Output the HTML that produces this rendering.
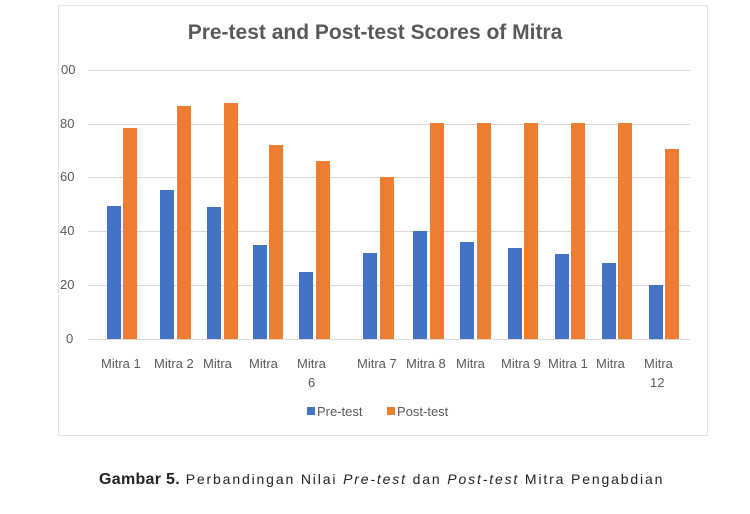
<!DOCTYPE html>
<html><head><style>
body{margin:0;width:750px;height:514px;background:#fff;position:relative;overflow:hidden;font-family:"Liberation Sans",sans-serif}
.frame{position:absolute;left:58px;top:5px;width:650px;height:431px;border:1px solid #e4e4e4;box-sizing:border-box}
.t{position:absolute;color:#595959;font-size:13px;white-space:nowrap}
.g{position:absolute;left:88px;width:602px;height:1px;background:#d9d9d9}
</style></head><body>
<div class="frame"></div>
<div class="t" style="left:0;width:750px;text-align:center;top:21px;font-size:21px;font-weight:bold;color:#595959">Pre-test and Post-test Scores of Mitra</div>
<div class="g" style="top:70px"></div><div class="g" style="top:124px"></div><div class="g" style="top:177px"></div><div class="g" style="top:231px"></div><div class="g" style="top:285px"></div><div class="g" style="top:339px"></div>
<div class="t" style="left:61px;top:62px">00</div>
<div class="t" style="left:60px;top:116px">80</div>
<div class="t" style="left:60px;top:169px">60</div>
<div class="t" style="left:60px;top:223px">40</div>
<div class="t" style="left:60px;top:277px">20</div>
<div class="t" style="left:66px;top:331px">0</div>
<svg width="750" height="514" style="position:absolute;left:0;top:0">
<g fill="#4472c4">
<rect x="107" y="206" width="14" height="133"/><rect x="160" y="190" width="14" height="149"/><rect x="207" y="207" width="14" height="132"/><rect x="253" y="245" width="14" height="94"/><rect x="299" y="272" width="14" height="67"/><rect x="363" y="253" width="14" height="86"/><rect x="413" y="231" width="14" height="108"/><rect x="460" y="242" width="14" height="97"/><rect x="508" y="248" width="14" height="91"/><rect x="555" y="254" width="14" height="85"/><rect x="602" y="263" width="14" height="76"/><rect x="649" y="285" width="14" height="54"/>
</g>
<g fill="#ed7d31">
<rect x="123" y="128" width="14" height="211"/><rect x="177" y="106" width="14" height="233"/><rect x="224" y="103" width="14" height="236"/><rect x="269" y="145" width="14" height="194"/><rect x="316" y="161" width="14" height="178"/><rect x="380" y="177" width="14" height="162"/><rect x="430" y="123" width="14" height="216"/><rect x="477" y="123" width="14" height="216"/><rect x="524" y="123" width="14" height="216"/><rect x="571" y="123" width="14" height="216"/><rect x="618" y="123" width="14" height="216"/><rect x="665" y="149" width="14" height="190"/>
</g>
</svg>
<div class="t" style="left:101px;top:356px">Mitra 1</div>
<div class="t" style="left:154px;top:356px">Mitra 2</div>
<div class="t" style="left:203px;top:356px">Mitra</div>
<div class="t" style="left:249px;top:356px">Mitra</div>
<div class="t" style="left:297px;top:356px">Mitra</div>
<div class="t" style="left:308px;top:375px">6</div>
<div class="t" style="left:357px;top:356px">Mitra 7</div>
<div class="t" style="left:406px;top:356px">Mitra 8</div>
<div class="t" style="left:456px;top:356px">Mitra</div>
<div class="t" style="left:501px;top:356px">Mitra 9</div>
<div class="t" style="left:548px;top:356px">Mitra 1</div>
<div class="t" style="left:596px;top:356px">Mitra</div>
<div class="t" style="left:644px;top:356px">Mitra</div>
<div class="t" style="left:650px;top:375px">12</div>
<div style="position:absolute;left:307px;top:407px;width:8px;height:8px;background:#4472c4"></div>
<div class="t" style="left:317px;top:404px">Pre-test</div>
<div style="position:absolute;left:387px;top:407px;width:8px;height:8px;background:#ed7d31"></div>
<div class="t" style="left:397px;top:404px">Post-test</div>
<div class="t" style="left:99px;top:471px;color:#222;font-size:14px;letter-spacing:1.85px"><b style="letter-spacing:0.3px;font-size:16px">Gambar 5.</b> Perbandingan Nilai <i>Pre-test</i> dan <i>Post-test</i> Mitra Pengabdian</div>
</body></html>
